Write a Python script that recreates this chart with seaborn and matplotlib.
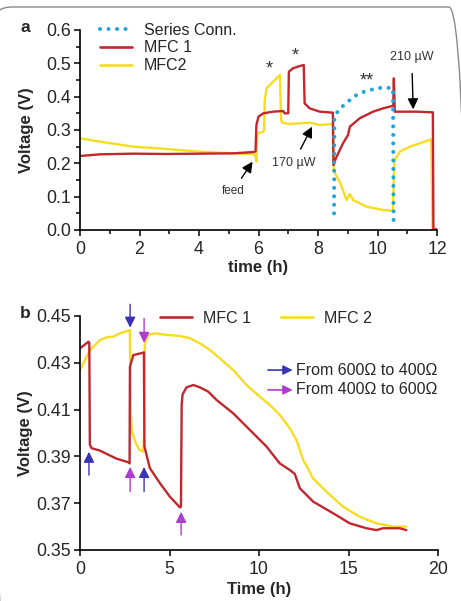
import numpy as np
import pandas as pd
import seaborn as sns
import matplotlib.pyplot as plt
from matplotlib.patches import FancyBboxPatch
from matplotlib.ticker import MultipleLocator

sns.set_style("ticks")
plt.rcParams['font.family'] = ['Liberation Sans', 'DejaVu Sans']

RED = '#c1272d'
YELLOW = '#f8dc1f'
BLUE = '#1fa5dc'
ARROW_BLUE = '#3a34b4'
ARROW_PURPLE = '#b03ccf'

# panel a: voltage vs time, 1 kOhm fed-batch run
red_a_t = [0, 0.67, 1.79, 2.91, 4.03, 5.15, 5.85, 5.9, 5.93, 6.0, 6.16, 6.49, 6.83, 6.88,
           7.0, 7.02, 7.16, 7.39, 7.52, 7.55, 7.72, 8.06, 8.5, 8.52, 8.6, 8.84, 9.01, 9.07,
           9.4, 9.85, 10.19, 10.5, 10.53, 10.55, 10.58, 11.31, 11.86, 11.88, 11.98]
red_a_v = [0.222, 0.227, 0.229, 0.228, 0.229, 0.230, 0.234, 0.236, 0.315, 0.34, 0.35, 0.355,
           0.357, 0.35, 0.35, 0.475, 0.485, 0.492, 0.495, 0.38, 0.365, 0.355, 0.352, 0.195,
           0.215, 0.26, 0.285, 0.31, 0.335, 0.355, 0.365, 0.372, 0.375, 0.455, 0.355, 0.355,
           0.353, 0.0, 0.003]

yellow_a_t = [0, 0.67, 1.79, 2.91, 4.03, 5.15, 5.82, 5.9, 5.93, 5.96, 6.16, 6.19, 6.21, 6.27,
              6.49, 6.72, 6.76, 6.8, 7.05, 7.72, 8.06, 8.5, 8.53, 8.6, 8.73, 8.96, 9.07, 9.18,
              9.63, 10.19, 10.52, 10.55, 10.58, 10.75, 11.08, 11.42, 11.81, 11.85]
yellow_a_v = [0.275, 0.265, 0.25, 0.243, 0.235, 0.23, 0.228, 0.222, 0.205, 0.29, 0.295, 0.30,
              0.39, 0.425, 0.445, 0.465, 0.33, 0.322, 0.318, 0.322, 0.315, 0.318, 0.18, 0.165,
              0.145, 0.09, 0.108, 0.09, 0.07, 0.06, 0.058, 0.17, 0.21, 0.235, 0.25, 0.26,
              0.272, 0.0]

series_t = [8.54, 8.55, 8.73, 8.96, 9.18, 9.63, 10.19, 10.52, 10.54]
series_v = [0.05, 0.34, 0.365, 0.38, 0.40, 0.418, 0.428, 0.425, 0.02]

# panel b: external resistance switching
red_b_t = [0, 0.47, 0.52, 0.55, 0.65, 1.1, 2.05, 2.7, 2.77, 2.79, 2.98, 3.53, 3.57, 3.6, 3.9,
           4.47, 5.02, 5.58, 5.64, 5.68, 5.73, 5.95, 6.33, 6.7, 7.16, 7.63, 8.56, 9.49, 10.42,
           11.16, 11.72, 12.0, 12.28, 13.02, 14.14, 15.07, 16.0, 16.56, 16.93, 17.86, 18.23]
red_b_v = [0.4362, 0.439, 0.4385, 0.395, 0.3935, 0.3925, 0.389, 0.3875, 0.387, 0.4283, 0.4333,
           0.4343, 0.4345, 0.3942, 0.385, 0.3785, 0.3728, 0.3682, 0.3685, 0.412, 0.4165, 0.4195,
           0.4205, 0.4195, 0.4177, 0.4141, 0.4084, 0.4013, 0.3942, 0.387, 0.3842, 0.3825,
           0.3764, 0.3707, 0.3657, 0.3614, 0.3593, 0.3585, 0.3593, 0.3593, 0.3585]

yellow_b_t = [0, 0.19, 0.56, 1.12, 1.49, 1.86, 2.23, 2.7, 2.78, 2.8, 2.83, 2.89, 3.1, 3.3,
              3.54, 3.58, 3.62, 3.81, 4.19, 4.84, 5.58, 6.14, 6.7, 7.26, 7.81, 8.56, 9.3,
              10.05, 10.6, 11.16, 11.72, 12.09, 12.47, 13.02, 13.77, 14.7, 15.63, 16.56,
              17.49, 18.23]
yellow_b_v = [0.4269, 0.4298, 0.4355, 0.4397, 0.4409, 0.4412, 0.4426, 0.4437, 0.444, 0.432,
              0.41, 0.401, 0.396, 0.393, 0.392, 0.40, 0.438, 0.4419, 0.4426, 0.4419, 0.4415,
              0.4405, 0.4383, 0.4355, 0.4319, 0.4269, 0.4205, 0.4155, 0.412, 0.4077, 0.402,
              0.397, 0.3885, 0.3806, 0.3749, 0.3685, 0.3642, 0.3614, 0.36, 0.36]

df_a = {
    'MFC2': pd.DataFrame({'t': yellow_a_t, 'v': yellow_a_v}),
    'MFC 1': pd.DataFrame({'t': red_a_t, 'v': red_a_v}),
    'Series Conn.': pd.DataFrame({'t': series_t, 'v': series_v}),
}
df_b = {
    'MFC 2': pd.DataFrame({'t': yellow_b_t, 'v': yellow_b_v}),
    'MFC 1': pd.DataFrame({'t': red_b_t, 'v': red_b_v}),
}

fig = plt.figure(figsize=(4.61, 6.01), dpi=100)
ax1 = fig.add_axes([80 / 461, 1 - 230 / 601, 357 / 461, 200 / 601])
ax2 = fig.add_axes([80 / 461, 1 - 550 / 601, 358 / 461, 234 / 601])

# rounded frame: only its top edge and the corner arcs fall inside the picture
fig.patches.append(FancyBboxPatch((-0.08, -1.0), 4.77, 6.94, boxstyle='round,pad=0,rounding_size=0.2',
                                  transform=fig.dpi_scale_trans, fill=False, ec='#8a8a8a', lw=1.0))

DOTS = (0, (0.01, 2.1))

# ---- panel a
kw = dict(x='t', y='v', estimator=None, sort=False, legend=False)
sns.lineplot(data=df_a['MFC2'], color=YELLOW, lw=1.7, ax=ax1, **kw)
sns.lineplot(data=df_a['MFC 1'], color=RED, lw=1.7, ax=ax1, **kw)
sns.lineplot(data=df_a['Series Conn.'], color=BLUE, lw=2.9, ax=ax1,
             linestyle=DOTS, dash_capstyle='round', **kw)

ax1.set_xlim(0, 12)
ax1.set_ylim(0, 0.6)
ax1.xaxis.set_major_locator(MultipleLocator(2))
ax1.xaxis.set_minor_locator(MultipleLocator(1))
ax1.yaxis.set_major_locator(MultipleLocator(0.1))
ax1.yaxis.set_minor_locator(MultipleLocator(0.05))
ax1.yaxis.set_major_formatter(plt.FormatStrFormatter('%.1f'))
ax1.set_xlabel('time (h)', fontsize=12, fontweight='bold')
ax1.set_ylabel('Voltage (V)', fontsize=12, fontweight='bold')

handles = [plt.Line2D([], [], color=BLUE, lw=2.9, linestyle=DOTS, dash_capstyle='round'),
           plt.Line2D([], [], color=RED, lw=1.9),
           plt.Line2D([], [], color=YELLOW, lw=1.9)]
ax1.legend(handles, ['Series Conn.', 'MFC 1', 'MFC2'], loc='upper left', bbox_to_anchor=(0.056, 1.037),
           frameon=False, fontsize=11.5, borderpad=0, borderaxespad=0, handlelength=2.0,
           handletextpad=0.75, labelspacing=0.18)

arr = dict(arrowstyle='-|>', color='black', lw=1.0, mutation_scale=16)
ax1.text(6.35, 0.47, '*', fontsize=13, ha='center', color='#333333')
ax1.text(7.23, 0.51, '*', fontsize=13, ha='center', color='#333333')
ax1.text(9.65, 0.435, '**', fontsize=13, ha='center', color='#333333')
ax1.annotate('feed', xy=(5.8, 0.205), xytext=(5.14, 0.117), fontsize=8.5, ha='center', va='center',
             color='#333333', arrowprops=dict(arr, shrinkA=3, shrinkB=0))
ax1.annotate('170 µW', xy=(7.8, 0.31), xytext=(7.17, 0.2), fontsize=9, ha='center', va='center',
             color='#333333', arrowprops=dict(arr, shrinkA=4, shrinkB=0))
ax1.annotate('210 µW', xy=(11.2, 0.362), xytext=(11.15, 0.518), fontsize=9, ha='center', va='center',
             color='#333333', arrowprops=dict(arr, shrinkA=5, shrinkB=0))

# ---- panel b
sns.lineplot(data=df_b['MFC 2'], color=YELLOW, lw=1.7, ax=ax2, **kw)
sns.lineplot(data=df_b['MFC 1'], color=RED, lw=1.7, ax=ax2, **kw)

ax2.set_xlim(0, 20)
ax2.set_ylim(0.35, 0.45)
ax2.set_xticks([0, 5, 10, 15, 20])
ax2.set_yticks([0.35, 0.37, 0.39, 0.41, 0.43, 0.45])
ax2.set_xlabel('Time (h)', fontsize=12, fontweight='bold')
ax2.set_ylabel('Voltage (V)', fontsize=12, fontweight='bold')

handles_b = [plt.Line2D([], [], color=RED, lw=1.9), plt.Line2D([], [], color=YELLOW, lw=1.9)]
ax2.legend(handles_b, ['MFC 1', 'MFC 2'], loc='center left', bbox_to_anchor=(0.223, 0.99), ncol=2,
           frameon=False, fontsize=11.5, borderpad=0, borderaxespad=0, handlelength=2.0,
           handletextpad=0.7, columnspacing=1.9)

# resistance switching arrows (tail -> head)
switch_arrows = [
    (0.5, 0.382, 0.392, ARROW_BLUE),
    (2.8, 0.455, 0.445, ARROW_BLUE),
    (2.8, 0.375, 0.3855, ARROW_PURPLE),
    (3.58, 0.449, 0.4385, ARROW_PURPLE),
    (3.58, 0.375, 0.3855, ARROW_BLUE),
    (5.65, 0.3564, 0.3663, ARROW_PURPLE),
]
for t, y0, y1, c in switch_arrows:
    ax2.annotate('', xy=(t, y1), xytext=(t, y0), annotation_clip=False,
                 arrowprops=dict(arrowstyle='-|>', color=c, lw=1.0, mutation_scale=16,
                                 shrinkA=0, shrinkB=0))

for yy, c, lab in [(0.769, ARROW_BLUE, 'From 600Ω to 400Ω'), (0.684, ARROW_PURPLE, 'From 400Ω to 600Ω')]:
    ax2.annotate('', xy=(0.594, yy), xytext=(0.525, yy), xycoords='axes fraction',
                 arrowprops=dict(arrowstyle='-|>', color=c, lw=1.2, mutation_scale=14,
                                 shrinkA=0, shrinkB=0))
    ax2.text(0.602, yy, lab, transform=ax2.transAxes, fontsize=11.5, va='center', ha='left')

for ax in (ax1, ax2):
    sns.despine(ax=ax)
    for s in ('left', 'bottom'):
        ax.spines[s].set_linewidth(1.2)
        ax.spines[s].set_color('black')
    ax.tick_params(which='major', length=4.3, width=1.1, labelsize=12.8, color='black')
    ax.tick_params(which='minor', length=2.6, width=1.1, color='black')
    ax.tick_params(axis='y', pad=2)
    ax.tick_params(axis='x', pad=3.5)
    ax.yaxis.set_label_coords(-0.13, 0.5)
    ax.set_facecolor('white')

ax1.xaxis.set_label_coords(0.5, -0.15)
ax2.xaxis.set_label_coords(0.5, -0.135)

fig.text(20 / 461, 1 - 32 / 601, 'a', fontsize=12.5, fontweight='bold')
fig.text(20 / 461, 1 - 318 / 601, 'b', fontsize=12.5, fontweight='bold')

fig.savefig('out.png', dpi=100, facecolor='white')
